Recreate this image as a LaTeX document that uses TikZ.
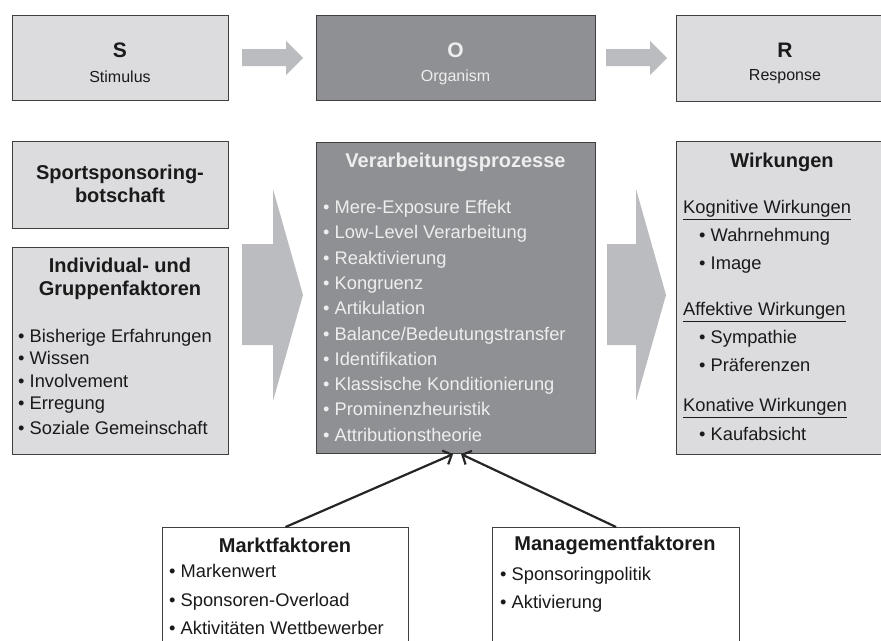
\documentclass[tikz,border=0pt]{standalone}
\usepackage{fontspec}
\setmainfont{Liberation Sans}
\usepackage{tikz}
\usetikzlibrary{arrows.meta}

\definecolor{boxlight}{HTML}{DCDCDF}
\definecolor{boxdark}{HTML}{8F9094}
\definecolor{arrowgray}{HTML}{BBBCC0}
\definecolor{textlight}{HTML}{EEEEEE}
\definecolor{textdark}{HTML}{1A1A1A}

\tikzset{
  lightbox/.style={draw=black!75, line width=1.1pt, fill=boxlight, anchor=north west, inner sep=0pt},
  darkbox/.style={lightbox, fill=boxdark},
  whitebox/.style={lightbox, fill=white},
  letter/.style={font=\bfseries\fontsize{21}{24}\selectfont, inner sep=0pt, text=textdark},
  subletter/.style={font=\fontsize{16}{19}\selectfont, inner sep=0pt, text=textdark},
  headline/.style={font=\bfseries\fontsize{20}{23}\selectfont, align=center, inner sep=0pt, text=textdark},
  entry/.style={anchor=west, inner sep=0pt, text height=13pt, text depth=4pt, font=\fontsize{18.3}{22}\selectfont, text=textdark},
  blockarrow/.style={fill=arrowgray},
  influence/.style={-{Straight Barb[length=7pt,width=15pt]}, line width=2.2pt, black!85},
}

\begin{document}
\begin{tikzpicture}[x=1pt,y=-1pt]
        \useasboundingbox (0,0) rectangle (881,640);
        \clip (0,0) rectangle (881,640);
        % top row: S - O - R
        \node[lightbox, minimum width=216, minimum height=85] (S) at (12,15) {};
        \node[darkbox, minimum width=279, minimum height=85] (O) at (316,15) {};
        \node[lightbox, minimum width=240, minimum height=86] (R) at (676,15) {};
        \node[letter] (Sletter) at (120,50) {S};
        \node[subletter] (Stext) at (120,77) {Stimulus};
        \node[letter, text=textlight] (Oletter) at (455.5,50) {O};
        \node[subletter, text=textlight] (Otext) at (455.5,77) {Organism};
        \node[letter] (Rletter) at (785,50) {R};
        \node[subletter] (Rtext) at (785,77) {Response};
        \fill[blockarrow] (242,49) -- (286,49) -- (286,41) -- (303,58) -- (286,75) -- (286,66) -- (242,66) -- cycle;
        \fill[blockarrow] (606,49) -- (650,49) -- (650,41) -- (667,58) -- (650,75) -- (650,66) -- (606,66) -- cycle;

        % main boxes
        \node[lightbox, minimum width=216, minimum height=87] (sport) at (12,141) {};
        \node[lightbox, minimum width=216, minimum height=207] (indiv) at (12,247) {};
        \node[darkbox, minimum width=279, minimum height=311] (verarb) at (316,142) {};
        \node[lightbox, minimum width=240, minimum height=313] (wirk) at (676,141) {};
        \fill[blockarrow] (242,244) -- (273,244) -- (273,189) -- (303,295) -- (273,401) -- (273,345) -- (242,345) -- cycle;
        \fill[blockarrow] (607,244) -- (636,244) -- (636,189) -- (666,295) -- (636,401) -- (636,345) -- (607,345) -- cycle;

        \node[headline] (sporttitle) at (120,183.5) {Sportsponsoring-\\botschaft};
        \node[headline] (indivtitle) at (120,278.5) {Individual- und\\Gruppenfaktoren};
        \foreach \y/\txt [count=\i] in {338/Bisherige Erfahrungen, 360/Wissen, 383/Involvement, 405/Erregung, 430/Soziale Gemeinschaft}
          \node[entry] (ind\i) at (18,\y) {\textbullet\ \txt};

        \node[headline, text=textlight] (verarbtitle) at (455.5,162) {Verarbeitungsprozesse};
        \foreach \txt [count=\i] in {Mere-Exposure Effekt, Low-Level Verarbeitung, Reaktivierung, Kongruenz, Artikulation, Balance/Bedeutungstransfer, Identifikation, Klassische Konditionierung, Prominenzheuristik, Attributionstheorie}
          \node[entry, text=textlight] (proz\i) at (323,{209+25.3*(\i-1)}) {\textbullet\ \txt};

        \node[headline] (wirktitle) at (782,162) {Wirkungen};
        \node[entry] (kogn) at (683,209) {\underline{Kognitive Wirkungen}};
        \node[entry] (affe) at (683,311) {\underline{Affektive Wirkungen}};
        \node[entry] (kona) at (683,407) {\underline{Konative Wirkungen}};
        \foreach \y/\txt [count=\i] in {237/Wahrnehmung, 265/Image, 339/Sympathie, 367/Präferenzen, 436/Kaufabsicht}
          \node[entry] (wirk\i) at (699,\y) {\textbullet\ \txt};

        % bottom boxes
        \node[whitebox, minimum width=246, minimum height=150] (markt) at (162,527) {};
        \node[whitebox, minimum width=247, minimum height=150] (mgmt) at (492,527) {};
        \node[headline] (markttitle) at (285,545) {Marktfaktoren};
        \node[headline] (mgmttitle) at (615,545) {Managementfaktoren};
        \foreach \y/\txt [count=\i] in {573/Markenwert, 602/Sponsoren-Overload, 630/Aktivitäten Wettbewerber}
          \node[entry] (mf\i) at (169,\y) {\textbullet\ \txt};
        \foreach \y/\txt [count=\i] in {576/Sponsoringpolitik, 604/Aktivierung}
          \node[entry] (mg\i) at (500,\y) {\textbullet\ \txt};

        \draw[influence] (markt.north) -- ([xshift=-3pt]verarb.south);
        \draw[influence] (mgmt.north) -- ([xshift=5pt]verarb.south);
\end{tikzpicture}
\end{document}
